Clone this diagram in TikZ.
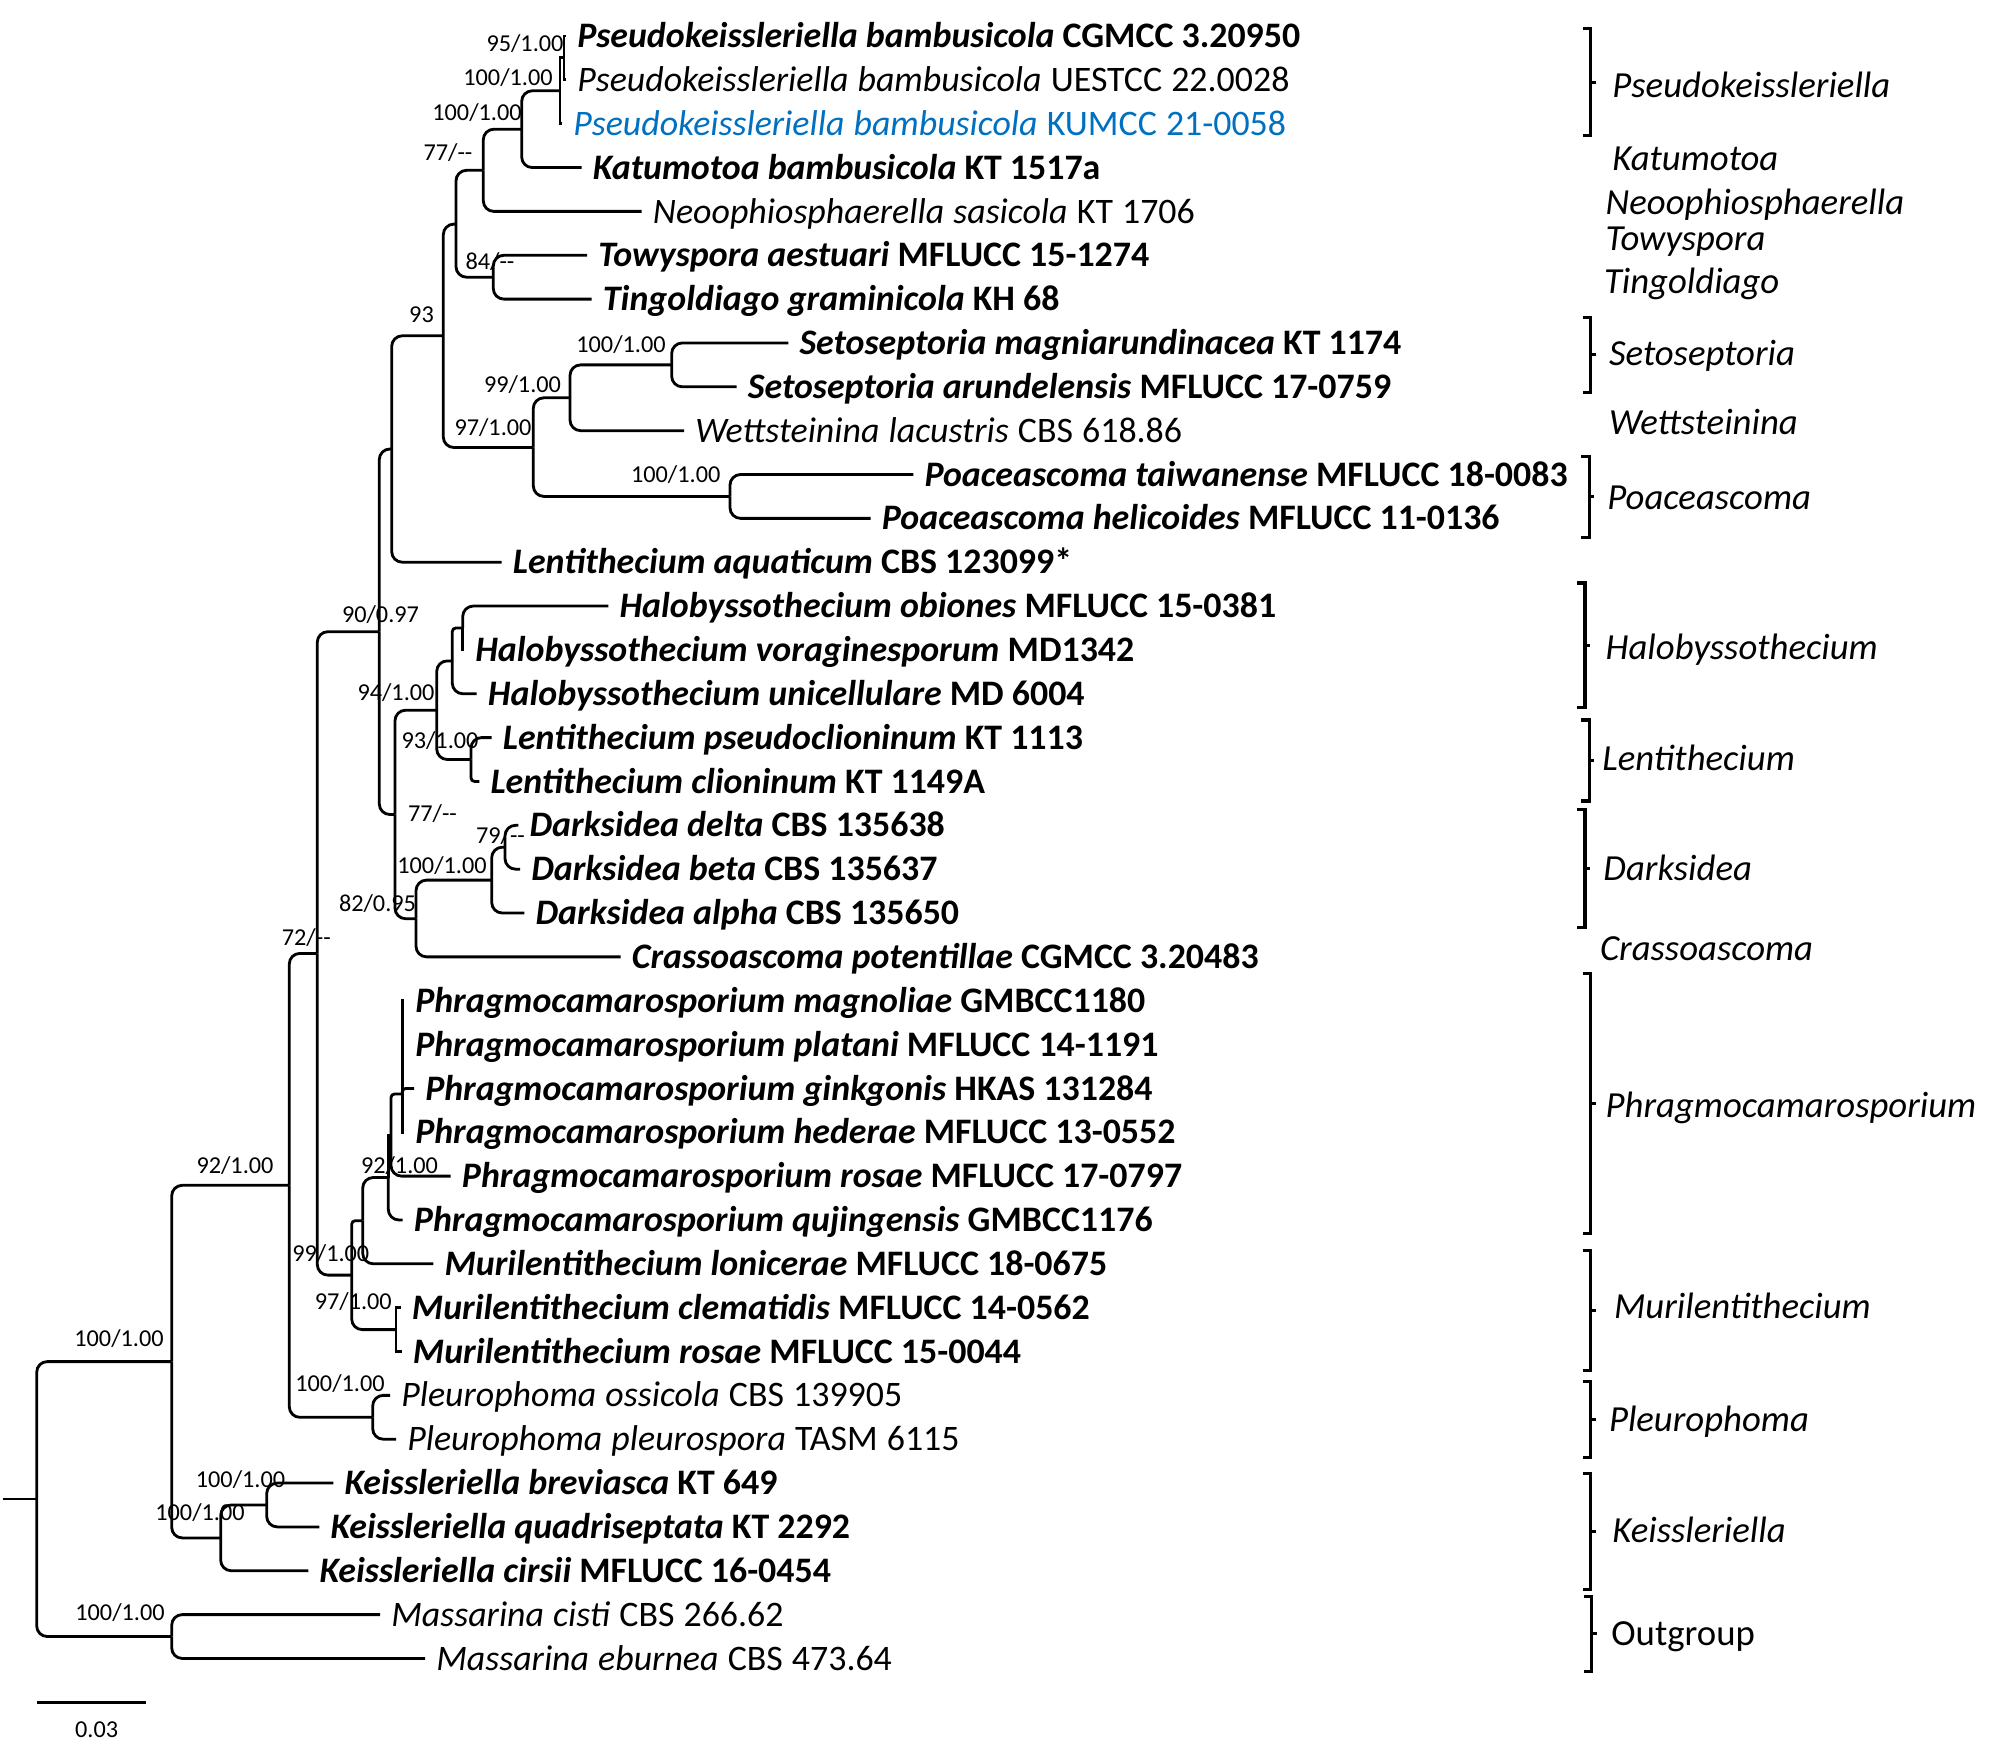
\documentclass[tikz,border=0pt]{standalone}
\usepackage{fontspec}
\setmainfont{Carlito}
\definecolor{kumblue}{RGB}{0,112,192}

\begin{document}
\begin{tikzpicture}[
  x=0.01cm, y=-0.01cm,
  br/.style={line width=0.8pt, rounded corners=3pt},
  brs/.style={line width=0.8pt, rounded corners=1pt},
  brx/.style={line width=0.8pt, sharp corners},
  taxbold/.style={
    anchor=west, inner xsep=3pt, inner ysep=0pt,
    text height=6.6pt, text depth=0pt,
    font=\fontsize{10.2}{12}\selectfont\bfseries
  },
  taxplain/.style={
    anchor=west, inner xsep=3pt, inner ysep=0pt,
    text height=6.6pt, text depth=0pt,
    font=\fontsize{10.2}{12}\selectfont,
    execute at begin node={\spaceskip=2.6pt plus 1pt\relax}
  },
  supp/.style={inner sep=0pt, text height=4.4pt, text depth=0pt,
    font=\fontsize{6.9}{8}\selectfont},
  genus/.style={anchor=west, inner sep=0pt, text height=6.7pt,
    text depth=0pt, font=\fontsize{10.45}{12}\selectfont\itshape},
  clamp/.style={line width=0.9pt},
]
\useasboundingbox (0,0) rectangle (2002,1760);

% Taxa (one row each, top to bottom)
\node[taxbold] (t1) at (566,36) {\textit{Pseudokeissleriella bambusicola} CGMCC 3.20950};
\node[taxplain] (t2) at (566,79.85) {\textit{Pseudokeissleriella bambusicola} UESTCC 22.0028};
\node[taxplain, text=kumblue] (t3) at (562,123.7) {\textit{Pseudokeissleriella bambusicola} KUMCC 21-0058};
\node[taxbold] (t4) at (581.7,167.55) {\textit{Katumotoa bambusicola} KT 1517a};
\node[taxplain] (t5) at (641.7,211.4) {\textit{Neoophiosphaerella sasicola} KT 1706};
\node[taxbold] (t6) at (587,255.25) {\textit{Towyspora aestuari} MFLUCC 15-1274};
\node[taxbold] (t7) at (591.7,299.1) {\textit{Tingoldiago graminicola} KH 68};
\node[taxbold] (t8) at (788.3,342.95) {\textit{Setoseptoria magniarundinacea} KT 1174};
\node[taxbold] (t9) at (736.7,386.8) {\textit{Setoseptoria arundelensis} MFLUCC 17-0759};
\node[taxplain] (t10) at (684,430.65) {\textit{Wettsteinina lacustris} CBS 618.86};
\node[taxbold] (t11) at (913.3,474.5) {\textit{Poaceascoma taiwanense} MFLUCC 18-0083};
\node[taxbold] (t12) at (870.7,518.35) {\textit{Poaceascoma helicoides} MFLUCC 11-0136};
\node[taxbold] (t13) at (501.7,562.2) {\textit{Lentithecium aquaticum} CBS 123099*};
\node[taxbold] (t14) at (608.3,606.05) {\textit{Halobyssothecium obiones} MFLUCC 15-0381};
\node[taxbold] (t15) at (464,649.9) {\textit{Halobyssothecium voraginesporum} MD1342};
\node[taxbold] (t16) at (476.7,693.75) {\textit{Halobyssothecium unicellulare} MD 6004};
\node[taxbold] (t17) at (491.7,737.6) {\textit{Lentithecium pseudoclioninum} KT 1113};
\node[taxbold] (t18) at (479.3,781.45) {\textit{Lentithecium clioninum} KT 1149A};
\node[taxbold] (t19) at (518.3,825.3) {\textit{Darksidea delta} CBS 135638};
\node[taxbold] (t20) at (520,869.15) {\textit{Darksidea beta} CBS 135637};
\node[taxbold] (t21) at (524.3,913) {\textit{Darksidea alpha} CBS 135650};
\node[taxbold] (t22) at (620.7,956.85) {\textit{Crassoascoma potentillae} CGMCC 3.20483};
\node[taxbold] (t23) at (404,1000.7) {\textit{Phragmocamarosporium magnoliae} GMBCC1180};
\node[taxbold] (t24) at (404,1044.55) {\textit{Phragmocamarosporium platani} MFLUCC 14-1191};
\node[taxbold] (t25) at (414,1088.4) {\textit{Phragmocamarosporium ginkgonis} HKAS 131284};
\node[taxbold] (t26) at (404,1132.25) {\textit{Phragmocamarosporium hederae} MFLUCC 13-0552};
\node[taxbold] (t27) at (450.7,1176.1) {\textit{Phragmocamarosporium rosae} MFLUCC 17-0797};
\node[taxbold] (t28) at (402.7,1219.95) {\textit{Phragmocamarosporium qujingensis} GMBCC1176};
\node[taxbold] (t29) at (433.3,1263.8) {\textit{Murilentithecium lonicerae} MFLUCC 18-0675};
\node[taxbold] (t30) at (400.7,1307.65) {\textit{Murilentithecium clematidis} MFLUCC 14-0562};
\node[taxbold] (t31) at (401.7,1351.5) {\textit{Murilentithecium rosae} MFLUCC 15-0044};
\node[taxplain] (t32) at (390,1395.35) {\textit{Pleurophoma ossicola} CBS 139905};
\node[taxplain] (t33) at (396,1439.2) {\textit{Pleurophoma pleurospora} TASM 6115};
\node[taxbold] (t34) at (333.3,1483.05) {\textit{Keissleriella breviasca} KT 649};
\node[taxbold] (t35) at (319.3,1526.9) {\textit{Keissleriella quadriseptata} KT 2292};
\node[taxbold] (t36) at (308.3,1570.75) {\textit{Keissleriella cirsii} MFLUCC 16-0454};
\node[taxplain] (t37) at (380,1614.6) {\textit{Massarina cisti} CBS 266.62};
\node[taxplain] (t38) at (425,1658.45) {\textit{Massarina eburnea} CBS 473.64};

% Internal nodes
\coordinate (stub)  at (2.7,1499);
\coordinate (root)  at (36.7,1499);
\coordinate (ingrp) at (171.7,1361.6);
\coordinate (outg)  at (171.7,1636.5);
\coordinate (keis)  at (220.7,1537.9);
\coordinate (keis2) at (266.7,1505);
\coordinate (n92)   at (289.3,1185.3);
\coordinate (pleu)  at (372.7,1417.3);
\coordinate (n72)   at (317.3,953.4);
\coordinate (n90)   at (379.3,631.7);
\coordinate (lenaq) at (391.7,449);
\coordinate (n93)   at (443.3,335.8);
\coordinate (upA)   at (456,224.1);
\coordinate (n77a)  at (483.3,170.3);
\coordinate (pk3)   at (521.7,129.2);
\coordinate (pb2)   at (560,90.8);
\coordinate (pb1)   at (564,57.9);
\coordinate (n84)   at (493.3,277.2);
\coordinate (n97a)  at (533.3,447.5);
\coordinate (n99a)  at (570,397.8);
\coordinate (seto)  at (671.7,364.9);
\coordinate (poac)  at (730,496.4);
\coordinate (n77b)  at (395,814.5);
\coordinate (n94)   at (436.7,710.2);
\coordinate (halo)  at (452.3,660.9);
\coordinate (halo2) at (462.7,628);
\coordinate (lent)  at (471,759.5);
\coordinate (n82)   at (416,918.7);
\coordinate (dark)  at (491.7,880.1);
\coordinate (d79)   at (505,847.2);
\coordinate (n99)   at (351.7,1275.1);
\coordinate (phml)  at (362.7,1220.7);
\coordinate (phrag) at (388.3,1177.5);
\coordinate (phs)   at (391,1135);
\coordinate (phi)   at (402.3,1094);
\coordinate (muri)  at (396,1329.6);

% Branches
\draw[br] (stub) -- (root);
\draw[br] (root) |- (ingrp);
\draw[br] (root) |- (outg);
\draw[br] (ingrp) |- (n92);
\draw[br] (ingrp) |- (keis);
\draw[br] (outg) |- (t37.west);
\draw[br] (outg) |- (t38.west);
\draw[br] (keis) |- (keis2);
\draw[br] (keis) |- (t36.west);
\draw[br] (keis2) |- (t34.west);
\draw[br] (keis2) |- (t35.west);
\draw[br] (n92) |- (n72);
\draw[br] (n92) |- (pleu);
\draw[br] (pleu) |- (t32.west);
\draw[br] (pleu) |- (t33.west);
\draw[br] (n72) |- (n90);
\draw[br] (n72) |- (n99);
\draw[br] (n90) |- (lenaq);
\draw[br] (n90) |- (n77b);
\draw[br] (lenaq) |- (n93);
\draw[br] (lenaq) |- (t13.west);
\draw[br] (n93) |- (upA);
\draw[br] (n93) |- (n97a);
\draw[br] (upA) |- (n77a);
\draw[br] (upA) |- (n84);
\draw[br] (n77a) |- (pk3);
\draw[br] (n77a) |- (t5.west);
\draw[br] (pk3) |- (pb2);
\draw[br] (pk3) |- (t4.west);
\draw[brx] (pb2) |- (pb1);
\draw[brx] (pb2) |- (t3.west);
\draw[brx] (pb1) |- (t1.west);
\draw[brx] (pb1) |- (t2.west);
\draw[br] (n84) |- (t6.west);
\draw[br] (n84) |- (t7.west);
\draw[br] (n97a) |- (n99a);
\draw[br] (n97a) |- (poac);
\draw[br] (n99a) |- (seto);
\draw[br] (n99a) |- (t10.west);
\draw[br] (seto) |- (t8.west);
\draw[br] (seto) |- (t9.west);
\draw[br] (poac) |- (t11.west);
\draw[br] (poac) |- (t12.west);
\draw[br] (n77b) |- (n94);
\draw[br] (n77b) |- (n82);
\draw[br] (n94) |- (halo);
\draw[br] (n94) |- (lent);
\draw[brs] (halo) |- (halo2);
\draw[br] (halo) |- (t16.west);
\draw[br] (halo2) |- (t14.west);
\draw[brx] (halo2) |- (t15.west);
\draw[br] (lent) |- (t17.west);
\draw[brs] (lent) |- (t18.west);
\draw[br] (n82) |- (dark);
\draw[br] (n82) |- (t22.west);
\draw[br] (dark) |- (d79);
\draw[br] (dark) |- (t21.west);
\draw[br] (d79) |- (t19.west);
\draw[br] (d79) |- (t20.west);
\draw[brs] (n99) |- (phml);
\draw[br] (n99) |- (muri);
\draw[br] (phml) |- (phrag);
\draw[br] (phml) |- (t29.west);
\draw[brx] (phrag) |- (phs);
\draw[br] (phrag) |- (t28.west);
\draw[brs] (phs) |- (phi);
\draw[br] (phs) |- (t27.west);
\draw[brx] (phi) |- (t23.west);
\draw[brx] (phi) |- (t24.west);
\draw[brs] (phi) |- (t25.west);
\draw[brx] (phi) |- (t26.west);
\draw[brx] (muri) |- (t30.west);
\draw[brx] (muri) |- (t31.west);

% Support values
\node[supp] (s-pb1)   at (525,44)     {95/1.00};
\node[supp] (s-pb2)   at (508,78)     {100/1.00};
\node[supp] (s-pk3)   at (477,113)    {100/1.00};
\node[supp] (s-n77a)  at (448,153)    {77/-{}-};
\node[supp] (s-n84)   at (490,262)    {84/-{}-};
\node[supp] (s-n93)   at (421.5,315)  {93};
\node[supp] (s-seto)  at (621,345)    {100/1.00};
\node[supp] (s-n99a)  at (522.5,385)  {99/1.00};
\node[supp] (s-n97a)  at (493,428)    {97/1.00};
\node[supp] (s-poac)  at (675.7,475)  {100/1.00};
\node[supp] (s-n90)   at (380.5,615)  {90/0.97};
\node[supp] (s-n94)   at (396,693)    {94/1.00};
\node[supp] (s-lent)  at (440,741)    {93/1.00};
\node[supp] (s-n77b)  at (432.5,814)  {77/-{}-};
\node[supp] (s-d79)   at (500.5,836)  {79/-{}-};
\node[supp] (s-dark)  at (442,866)    {100/1.00};
\node[supp] (s-n82)   at (377.5,904)  {82/0.95};
\node[supp] (s-n72)   at (306.3,938)  {72/-{}-};
\node[supp] (s-n92)   at (235,1166)   {92/1.00};
\node[supp] (s-phrag) at (399.5,1166) {92/1.00};
\node[supp] (s-n99)   at (330.8,1254) {99/1.00};
\node[supp] (s-muri)  at (353.3,1302) {97/1.00};
\node[supp] (s-pleu)  at (340,1384)   {100/1.00};
\node[supp] (s-ingrp) at (119,1339)   {100/1.00};
\node[supp] (s-keis2) at (240.5,1480) {100/1.00};
\node[supp] (s-keis)  at (200,1513)   {100/1.00};
\node[supp] (s-outg)  at (120,1613)   {100/1.00};

% Scale bar
\coordinate (sb1) at (36.7,1702.7);
\coordinate (sb2) at (146,1702.7);
\draw[br] (sb1) -- (sb2);
\node[supp] (sblab) at (96.7,1730) {0.03};

% Clade brackets
\foreach \bx/\ya/\yb in {1590.7/28.7/135.8, 1590.7/317.6/392.2,
    1589.3/456.1/537.6, 1585/583/707.3, 1589.3/720/801,
    1585/809.5/927.4, 1590.7/973.3/1233.9, 1590.7/1250.7/1370.7,
    1590.7/1381.4/1457.9, 1590.7/1473.2/1589.3, 1591.7/1596.4/1671.4}
  \draw[clamp] ({\bx-8},\ya) -- (\bx,\ya) -- (\bx,\yb) -- ({\bx-8},\yb)
    (\bx,{(\ya+\yb)/2}) -- ({\bx+5},{(\ya+\yb)/2});

% Genus names
\node[genus] (g1)  at (1611.7,86)    {Pseudokeissleriella};
\node[genus] (g2)  at (1611.7,158.8) {Katumotoa};
\node[genus] (g3)  at (1605,202.8)   {Neoophiosphaerella};
\node[genus] (g4)  at (1605,239.2)   {Towyspora};
\node[genus] (g5)  at (1603.3,281.3) {Tingoldiago};
\node[genus] (g6)  at (1608.3,354)   {Setoseptoria};
\node[genus] (g7)  at (1608.3,422.8) {Wettsteinina};
\node[genus] (g8)  at (1606.7,497.5) {Poaceascoma};
\node[genus] (g9)  at (1605,648)     {Halobyssothecium};
\node[genus] (g10) at (1601.7,759)   {Lentithecium};
\node[genus] (g11) at (1602.7,869)   {Darksidea};
\node[genus] (g12) at (1599.3,948.4) {Crassoascoma};
\node[genus] (g13) at (1605,1105.3)  {Phragmocamarosporium};
\node[genus] (g14) at (1613.3,1307)  {Murilentithecium};
\node[genus] (g15) at (1608.3,1419.6) {Pleurophoma};
\node[genus] (g16) at (1611.7,1530.4) {Keissleriella};
\node[genus, font=\fontsize{10.45}{12}\selectfont] (g17) at (1610.7,1634) {Outgroup};

\end{tikzpicture}
\end{document}
